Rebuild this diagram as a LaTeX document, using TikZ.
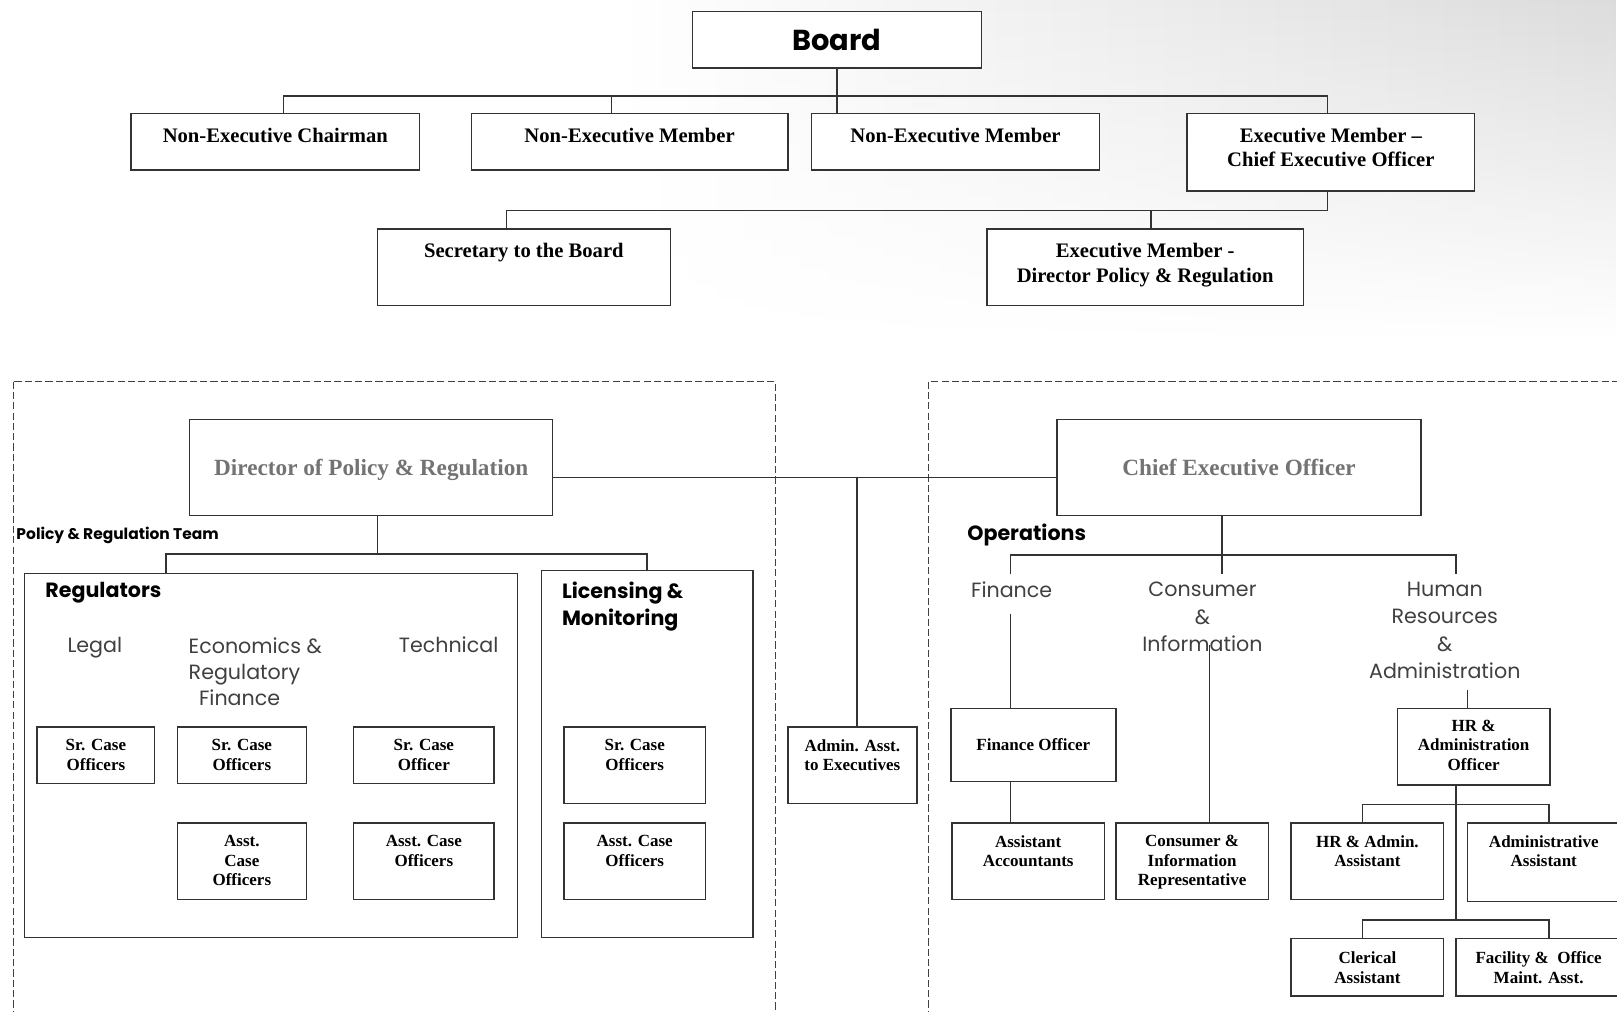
\documentclass[tikz,border=0pt]{standalone}
\usepackage{fontspec}
\setmainfont{Liberation Serif}
\newfontfamily\gothic{Poppins}
\usetikzlibrary{calc,fadings}

\tikzset{
  obox/.style={draw=black!80, line width=1.4pt, fill=white},
  toplbl/.style={anchor=north, inner ysep=14pt, align=center, font=\fontsize{20}{24}\selectfont\bfseries},
  smllbl/.style={anchor=north, inner ysep=12pt, align=center, font=\fontsize{16.5}{19}\selectfont\bfseries},
  headtxt/.style={font=\fontsize{22.5}{27}\selectfont\bfseries, text=black!55, text depth=0pt},
  link/.style={draw=black!80, line width=1.4pt},
  grpbox/.style={draw=black!75, line width=1.2pt, dash pattern=on 7pt off 3pt},
  unithead/.style={font=\gothic\bfseries\fontsize{20}{27}\selectfont, align=left},
  unitlbl/.style={font=\gothic\fontsize{20}{26.5}\selectfont, text=black!75, align=center},
}

\begin{document}
\begin{tikzpicture}[y=1pt, x=1pt, yscale=-1, inner sep=0pt, outer sep=0pt]

  \useasboundingbox (0,0) rectangle (1568,981);
  \shade[left color=white, right color=black!14, path fading=south] (600,0) rectangle (1568,330);

  % board
  \node[obox, minimum width=280, minimum height=55, font=\gothic\bfseries\fontsize{28}{32}\selectfont] (board) at (811.5,38.5) {Board};
  \node[obox, minimum width=280, minimum height=55, label={[toplbl]north:Non-Executive Chairman}] (chair) at (267,137.5) {};
  \node[obox, minimum width=307, minimum height=55, label={[toplbl]north:Non-Executive Member}] (nem1) at (610.5,137.5) {};
  \node[obox, minimum width=279, minimum height=55, label={[toplbl]north:Non-Executive Member}] (nem2) at (926.5,137.5) {};
  \node[obox, minimum width=279, minimum height=75, label={[toplbl]north:{Executive Member –\\Chief Executive Officer}}] (exceo) at (1290.5,147.5) {};
  \node[obox, minimum width=284, minimum height=74, label={[toplbl]north:Secretary to the Board}] (sec) at (508,259) {};
  \node[obox, minimum width=307, minimum height=74, label={[toplbl]north:{Executive Member -\\Director Policy \& Regulation}}] (exdir) at (1110.5,259) {};

  \coordinate (busA) at (0,93);
  \coordinate (busB) at (0,204);
  \coordinate (chairin) at ([xshift=8]chair.north);
  \coordinate (nem1in) at ([xshift=-17.5]nem1.north);
  \coordinate (exceoin) at ([xshift=-3.5]exceo.north);
  \coordinate (exceoout) at ([xshift=-3.5]exceo.south);
  \coordinate (secin) at ([xshift=-17]sec.north);
  \coordinate (exdirin) at ([xshift=5.5]exdir.north);

  \draw[link] (chairin) |- (exceoin |- busA) -- (exceoin);
  \draw[link] (nem1in) -- (nem1in |- busA);
  \draw[link] (board.south) -- (board.south |- nem2.north);
  \draw[link] (exceoout) |- (secin |- busB) -- (secin);
  \draw[link] (exdirin) -- (exdirin |- busB);

  % groups
  \draw[grpbox] (13,370) rectangle (752,1000);
  \draw[grpbox] (900,370) rectangle (1600,1000);

  \node[obox, minimum width=352, minimum height=93, headtxt] (dpr) at (360,453.5) {Director of Policy \& Regulation};
  \node[obox, minimum width=353, minimum height=93, headtxt] (ceo) at (1201.5,453.5) {Chief Executive Officer};
  \node[obox, minimum width=125, minimum height=74, label={[smllbl]north:{Admin. Asst.\\to Executives}}] (adminexec) at (826.5,742) {};

  \coordinate (linkL) at ($(dpr.east)+(0,9.5)$);
  \coordinate (adminin) at ([xshift=4.5]adminexec.north);
  \draw[link] (linkL) -- (linkL -| ceo.west);
  \draw[link] (adminin) -- (adminin |- linkL);

  % policy & regulation team
  \node[obox, minimum width=478, minimum height=353] (reg) at (263,732.5) {};
  \node[obox, minimum width=205, minimum height=356] (lic) at (627.5,731) {};
  \node[unithead, anchor=base west, font=\gothic\bfseries\fontsize{15}{18}\selectfont] (prteam) at (16,523) {Policy \& Regulation Team};
  \node[unithead, anchor=base west] (reghead) at (44,579) {Regulators};
  \node[unithead, anchor=north west] (lichead) at (545,564) {Licensing \&\\Monitoring};
  \node[unitlbl, anchor=base] (legal) at (92,633) {Legal};
  \node[unitlbl, anchor=north west, align=left, font=\gothic\fontsize{20}{25}\selectfont] (econ) at (183,618.5) {Economics \&\\Regulatory\\\hspace*{10pt}Finance};
  \node[unitlbl, anchor=base] (tech) at (435,633) {Technical};

  \node[obox, minimum width=114, minimum height=55, label={[smllbl]north:{Sr. Case\\Officers}}] (srlegal) at (93,732.5) {};
  \node[obox, minimum width=125, minimum height=55, label={[smllbl]north:{Sr. Case\\Officers}}] (srecon) at (234.5,732.5) {};
  \node[obox, minimum width=136, minimum height=55, label={[smllbl]north:{Sr. Case\\Officer}}] (srtech) at (411,732.5) {};
  \node[obox, minimum width=125, minimum height=74, label={[smllbl]north:{Asst.\\Case\\Officers}}] (asecon) at (234.5,835) {};
  \node[obox, minimum width=136, minimum height=74, label={[smllbl]north:{Asst. Case\\Officers}}] (astech) at (411,835) {};
  \node[obox, minimum width=137, minimum height=74, label={[smllbl]north:{Sr. Case\\Officers}}] (srlic) at (615.5,742) {};
  \node[obox, minimum width=137, minimum height=74, label={[smllbl]north:{Asst. Case\\Officers}}] (aslic) at (615.5,835) {};

  \coordinate (busC) at (0,537);
  \coordinate (dprout) at ([xshift=6]dpr.south);
  \coordinate (regin) at ([xshift=-102]reg.north);
  \draw[link] (dprout) -- (dprout |- busC);
  \draw[link] (regin) |- (lic.north |- busC) -- (lic.north);

  % operations
  \node[unithead, anchor=base west] (ops) at (938,524) {Operations};
  \node[unitlbl, anchor=base] (finlbl) at (981,579) {Finance};
  \node[unitlbl, anchor=north] (conlbl) at (1166,564.5) {Consumer\\\&\\Information};
  \node[unitlbl, anchor=north] (hrlbl) at (1401,564.5) {Human\\Resources\\\&\\Administration};

  \node[obox, minimum width=160, minimum height=71, font=\fontsize{16.5}{19}\selectfont\bfseries] (finoff) at (1002,722.5) {Finance Officer};
  \node[obox, minimum width=148, minimum height=74, label={[smllbl]north:{Assistant\\Accountants}}] (asstacc) at (997,835) {};
  \node[obox, minimum width=148, minimum height=74, label={[smllbl]north:{Consumer \&\\Information\\Representative}}] (cirep) at (1156,835) {};
  \node[obox, minimum width=148, minimum height=74, label={[smllbl, inner ysep=11pt]north:{HR \&\\Administration\\Officer}}] (hroff) at (1429,724) {};
  \node[obox, minimum width=148, minimum height=74, label={[smllbl]north:{HR \& Admin.\\Assistant}}] (hradm) at (1326,835) {};
  \node[obox, minimum width=148, minimum height=76, label={[smllbl]north:{Administrative\\Assistant}}] (admass) at (1497,836) {};
  \node[obox, minimum width=148, minimum height=56, label={[smllbl, inner ysep=13pt]north:{Clerical\\Assistant}}] (clerk) at (1326,938) {};
  \node[obox, minimum width=160, minimum height=56, label={[smllbl, inner ysep=13pt]north:{Facility \&~ Office\\Maint. Asst.}}] (facil) at (1492,938) {};

  \coordinate (busD) at (0,538);
  \coordinate (ceoin) at ([xshift=-16.5]ceo.south);
  \coordinate (opsL) at (980,557);
  \coordinate (opsR) at (1412,557);
  \draw[link] (ceoin) -- (ceoin |- opsL);
  \draw[link] (opsL) |- (opsR |- busD) -- (opsR);

  \coordinate (finin) at (980,595);
  \draw[link] (finin) -- (finin |- finoff.north);
  \draw[link] (finoff.south -| finin) -- (asstacc.north -| finin);
  \coordinate (conin) at (1173,625);
  \draw[link] (conin) -- (conin |- cirep.north);
  \coordinate (hrin) at (1423,669);
  \draw[link] (hrin) -- (hrin |- hroff.north);

  \coordinate (busE) at (0,780);
  \coordinate (busF) at (0,892);
  \coordinate (hrout) at ([xshift=-17]hroff.south);
  \coordinate (hrl) at (1321,0);
  \coordinate (hrr) at (1502,0);
  \draw[link] (hrout) -- (hrout |- busF);
  \draw[link] (hradm.north -| hrl) |- (busE -| hrr) -- (admass.north -| hrr);
  \draw[link] (clerk.north -| hrl) |- (busF -| hrr) -- (facil.north -| hrr);

\end{tikzpicture}
\end{document}
